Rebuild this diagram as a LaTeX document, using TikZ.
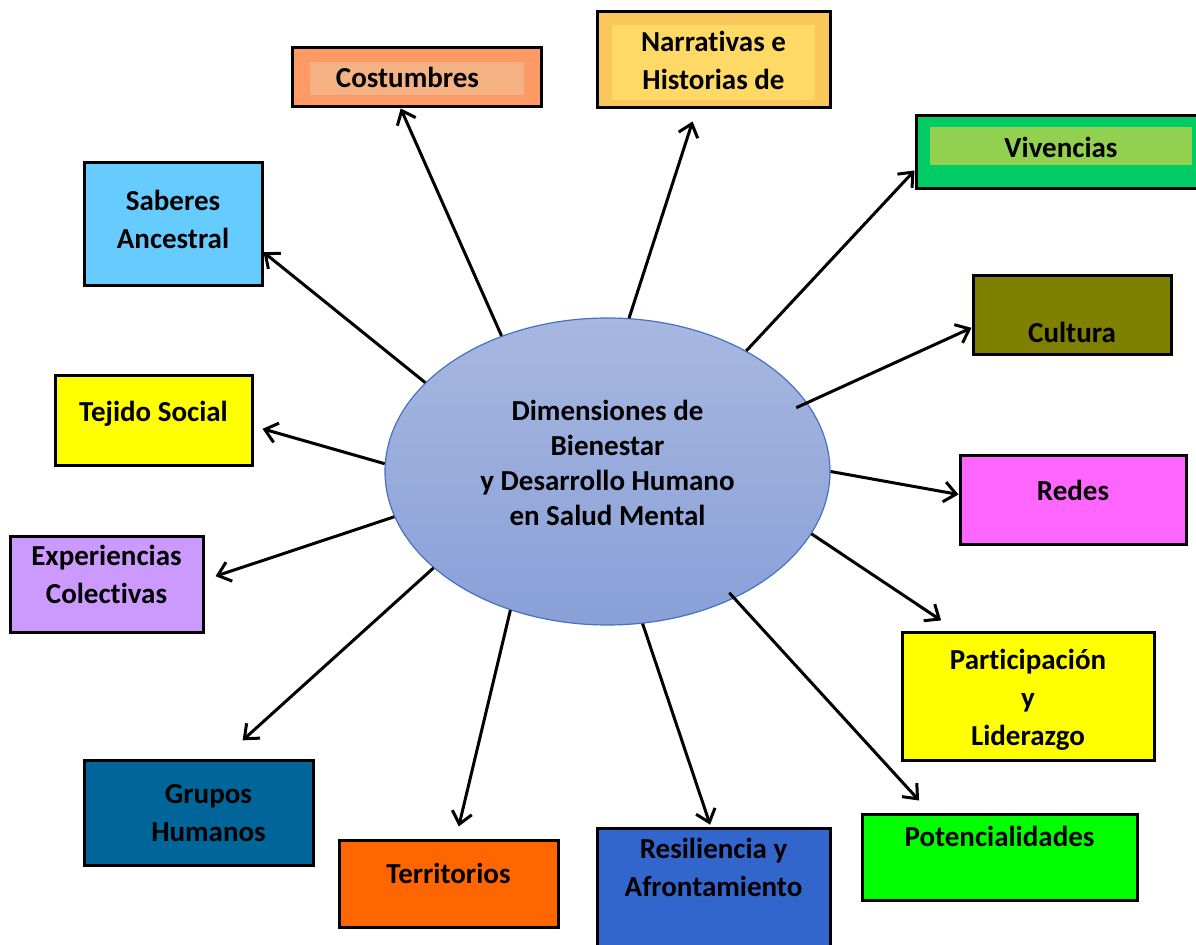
\documentclass[tikz,border=0pt]{standalone}
\usepackage{fontspec}
\setmainfont{Carlito}[RawFeature={-liga;-clig;-calt;-dlig;-rlig}]
\usepackage{tikz}
\usetikzlibrary{arrows.meta,shapes.geometric}
\tikzset{>={Straight Barb[length=6pt,width=10pt]}}
\definecolor{CostOuter}{HTML}{FF9966}
\definecolor{CostInner}{HTML}{F4B183}
\definecolor{NarrOuter}{HTML}{F9C75B}
\definecolor{NarrInner}{HTML}{FFD966}
\definecolor{VivOuter}{HTML}{00CC66}
\definecolor{VivInner}{HTML}{92D050}
\definecolor{SabBlue}{HTML}{66CCFF}
\definecolor{TejYellow}{HTML}{FFFF00}
\definecolor{ExpLila}{HTML}{CC99FF}
\definecolor{GrupBlue}{HTML}{006699}
\definecolor{TerrOrange}{HTML}{FF6600}
\definecolor{ResBlue}{HTML}{3366CC}
\definecolor{PotGreen}{HTML}{00FF00}
\definecolor{RedPink}{HTML}{FF66FF}
\definecolor{CultOlive}{HTML}{808000}
\definecolor{EllTop}{HTML}{A7B7E0}
\definecolor{EllBottom}{HTML}{89A0D8}
\definecolor{EllBorder}{HTML}{4472C4}
\tikzset{
  caja/.style={draw=black, line width=1.5pt, inner sep=0pt, align=center,
    font=\bfseries\fontsize{14.5}{19}\selectfont},
  flecha/.style={->, line width=1.5pt},
  inset/.style n args={5}{path picture={
    \fill[#1] ([xshift=#2,yshift=-#3]path picture bounding box.north west)
      rectangle ([xshift=-#4,yshift=#5]path picture bounding box.south east);}}
}

\begin{document}
\begin{tikzpicture}[x=0.5pt,y=-0.5pt]
  \useasboundingbox (0,0) rectangle (1196,945);
  \node[ellipse, draw=EllBorder, line width=0.6pt, top color=EllTop, bottom color=EllBottom,
    minimum width=222.5pt, minimum height=153.5pt, inner sep=0pt, align=center, text depth=8.3pt,
    font=\bfseries\fontsize{14.5}{17.5}\selectfont] (dim) at (607.5,471.5)
    {Dimensiones de\\Bienestar\\y Desarrollo Humano\\en Salud Mental};

  \node[caja, fill=CostOuter, minimum width=124.5pt, minimum height=29.5pt,
    inset={CostInner}{9pt}{7pt}{8.5pt}{6pt}] (cost) at (416.5,77.5) {Costumbres\hspace*{9pt}};
  \node[caja, fill=NarrOuter, minimum width=116.5pt, minimum height=48pt, text depth=-2.5pt,
    inset={NarrInner}{7.5pt}{6.5pt}{7.5pt}{4pt}] (narr) at (713.5,60) {Narrativas e\\Historias de};
  \node[caja, fill=VivOuter, minimum width=145pt, minimum height=36.5pt, text depth=4.8pt,
    inset={VivInner}{7pt}{5.5pt}{7pt}{12pt}] (viv) at (1061,152.5) {Vivencias};
  \node[caja, fill=CultOlive, minimum width=99pt, minimum height=39.5pt, text height=27pt] (cult) at (1072,315.5) {Cultura};
  \node[caja, fill=RedPink, minimum width=113pt, minimum height=44.5pt, text depth=9.8pt] (red) at (1073,500.5) {Redes};
  \node[caja, fill=TejYellow, minimum width=126pt, minimum height=64pt, text depth=-3.5pt] (part) at (1028,697) {Participación\\y\\Liderazgo};
  \node[caja, fill=PotGreen, minimum width=137.5pt, minimum height=43pt, text depth=21.8pt] (pot) at (999.5,858) {Potencialidades};
  \node[caja, fill=ResBlue, minimum width=116.5pt, minimum height=68pt, text depth=29.8pt] (res) at (713.5,897) {Resiliencia y\\Afrontamiento};
  \node[caja, fill=TerrOrange, minimum width=109.5pt, minimum height=43.5pt, text depth=10.8pt] (terr) at (448.5,884.5) {Territorios};
  \node[caja, fill=GrupBlue, minimum width=114.5pt, minimum height=52.5pt] (grup) at (198.5,813.5) {\hspace*{10pt}Grupos\\\hspace*{10pt}Humanos};
  \node[caja, fill=ExpLila, minimum width=96.5pt, minimum height=48pt, text depth=10.8pt] (exp) at (106.5,585) {Experiencias\\Colectivas};
  \node[caja, fill=TejYellow, minimum width=98.5pt, minimum height=45pt, text depth=9.8pt] (tej) at (153.5,421) {Tejido Social};
  \node[caja, fill=SabBlue, minimum width=89pt, minimum height=61.5pt, text depth=5.3pt] (sab) at (173,224.5) {Saberes\\Ancestral};

  \draw[flecha] (dim.128.7) -- (cost.243);
  \draw[flecha, shorten >=6.3pt] (dim.82.6) -- (narr.251);
  \draw[flecha] (dim.41.5) -- (viv.187.8);
  \draw[flecha, shorten <=-6pt] (dim.19) -- (cult.187.1);
  \draw[flecha] (dim.-0.9) -- (red.177.3);
  \draw[flecha, shorten >=10pt] (dim.-17.4) -- (part.137.7);
  \draw[flecha, shorten <=-3.7pt, shorten >=8.8pt] (dim.-45.2) -- (pot.147.1);
  \draw[flecha, shorten >=1.5pt] (dim.-77.4) -- (res.92.1);
  \draw[flecha, shorten >=6.7pt] (dim.235.1) -- (terr.81.5);
  \draw[flecha, shorten >=14.3pt] (dim.209.7) -- (grup.67.2);
  \draw[flecha, shorten >=5.8pt] (dim.192) -- (exp.3.8);
  \draw[flecha, shorten >=4.7pt] (dim.178.3) -- (tej.-3.1);
  \draw[flecha] (dim.154.7) -- (sab.-17);
\end{tikzpicture}
\end{document}
